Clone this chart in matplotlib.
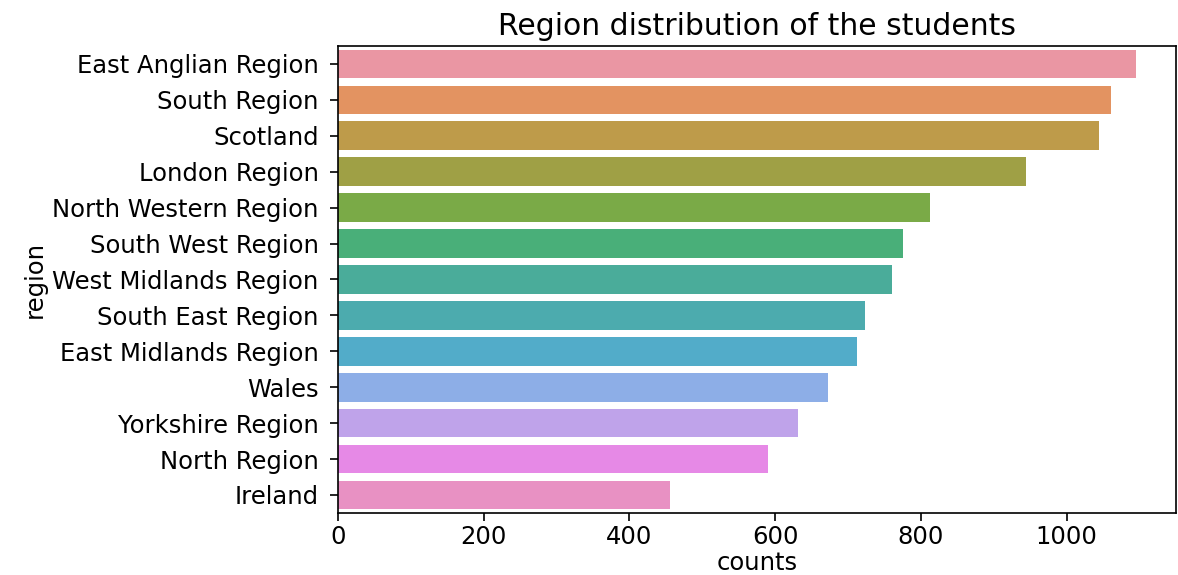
import matplotlib
matplotlib.use("Agg")
import matplotlib.pyplot as plt
import seaborn as sns
import pandas as pd

regions = ["East Anglian Region", "South Region", "Scotland", "London Region",
           "North Western Region", "South West Region", "West Midlands Region",
           "South East Region", "East Midlands Region", "Wales",
           "Yorkshire Region", "North Region", "Ireland"]
counts = [1095, 1061, 1044, 944, 813, 775, 761, 724, 713, 672, 631, 590, 456]

df = pd.DataFrame({"region": regions, "counts": counts})

fs = 17.5
fig = plt.figure(figsize=(11.78, 5.75), dpi=100)
ax = fig.add_axes([0.287, 0.108, 0.711, 0.812])

pal = sns.husl_palette(len(regions), l=.7)
sns.barplot(data=df, x="counts", y="region", hue="region", palette=pal,
            saturation=0.75, legend=False, ax=ax)

ax.set_title("Region distribution of the students", fontsize=21.5, pad=8)
ax.set_xlabel("counts", fontsize=fs, labelpad=1)
ax.set_ylabel("region", fontsize=fs, labelpad=4)
ax.tick_params(axis="x", labelsize=fs, length=6, width=1.2, pad=3)
ax.tick_params(axis="y", labelsize=fs, length=6, width=1.2, pad=8)
for sp in ax.spines.values():
    sp.set_linewidth(1.2)

fig.savefig("out.png", dpi=100)
